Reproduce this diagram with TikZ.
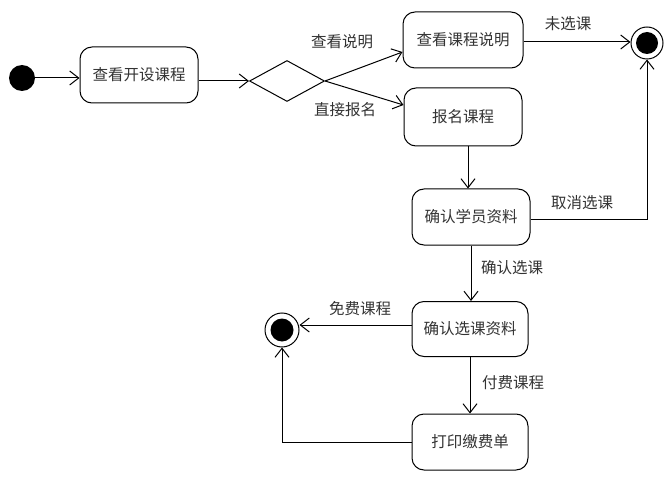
\documentclass[tikz,border=0pt]{standalone}
\usepackage{fontspec}
\setmainfont{Noto Sans CJK SC}
\usetikzlibrary{shapes.geometric,arrows.meta}
\begin{document}
\begin{tikzpicture}[x=1pt,y=-1pt,
  every node/.style={font=\fontsize{15.5}{18}\selectfont, text=black!80},
  act/.style={draw, rounded corners=12pt, line width=1pt, minimum width=118pt, minimum height=56pt, inner sep=0pt},
  lbl/.style={inner sep=0pt},
  conn/.style={line width=1pt, -{Straight Barb[length=9pt,width=14pt,line width=1pt]}},
  finalst/.style={draw, circle, line width=1pt, minimum size=32pt, inner sep=0pt},
  initst/.style={fill=black, circle, minimum size=26pt, inner sep=0pt}]
\useasboundingbox (0,0) rectangle (666,481);
\fill[white] (0,0) rectangle (666,481);
% nodes
\node[initst] (start) at (22,78) {};
\node[act] (b1) at (139,75) {查看开设课程};
\node[draw, diamond, line width=1pt, minimum width=75pt, minimum height=41pt, inner sep=0pt, aspect=1.8] (dia) at (287,81) {};
\node[act, minimum width=120pt] (b2) at (463,40) {查看课程说明};
\node[act, minimum height=58pt] (b3) at (463,117) {报名课程};
\node[act] (b4) at (471,217) {确认学员资料};
\node[act, minimum width=116pt, minimum height=55pt] (b5) at (470,329) {确认选课资料};
\node[act, minimum width=116pt] (b6) at (470,442) {打印缴费单};
\node[finalst] (e1) at (647,43) {};
\fill[black] (e1) circle (11pt);
\node[finalst, minimum size=34pt] (e2) at (282,330) {};
\fill[black] (e2) circle (11.5pt);
% labels
\node[lbl] (l1) at (342,42) {查看说明};
\node[lbl] (l2) at (345,110) {直接报名};
\node[lbl] (l3) at (568,24) {未选课};
\node[lbl] (l4) at (582,203) {取消选课};
\node[lbl] (l5) at (512,268) {确认选课};
\node[lbl] (l6) at (360,309) {免费课程};
\node[lbl] (l7) at (513,383) {付费课程};
% connectors
\draw[conn] (start) -- (start -| b1.west);
\draw[conn] (b1.east |- dia.west) -- (dia.west);
\draw[conn] (dia.east) -- ([yshift=-12pt]b2.west);
\draw[conn] (dia.east) -- ([yshift=12pt]b3.west);
\draw[conn] ([yshift=-2pt]b2.east) -- ([yshift=-2pt]b2.east -| e1.west);
\draw[conn] ([xshift=5pt]b3.south) -- ([xshift=5pt]b3.south |- b4.north);
\draw[conn] ([yshift=-2pt]b4.east) -| (e1.south);
\draw[conn] (b4.south) -- (b4.south |- b5.north);
\draw[conn] ([yshift=4pt]b5.west) -- ([yshift=4pt]b5.west -| e2.east);
\draw[conn] (b5.south) -- (b5.south |- b6.north);
\draw[conn] (b6.west) -| (e2.south);
\end{tikzpicture}
\end{document}
